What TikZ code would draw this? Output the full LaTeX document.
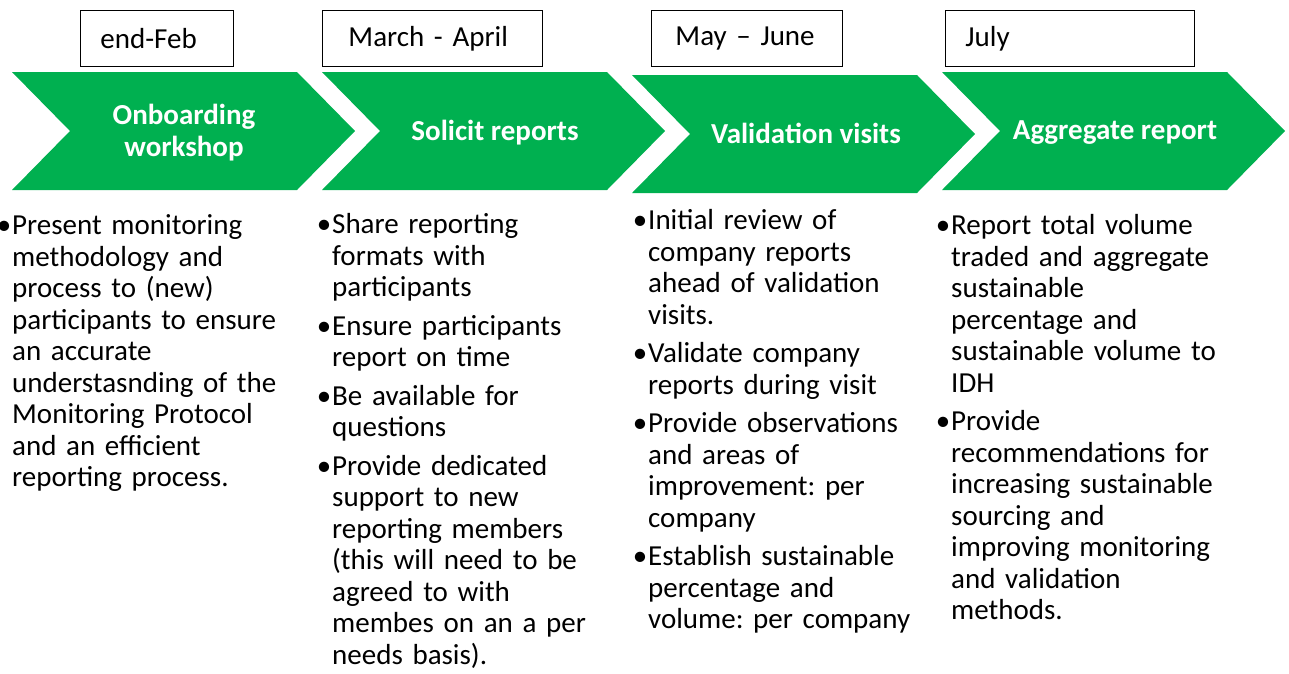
\documentclass[tikz,border=0pt]{standalone}
\usepackage{fontspec}
\setmainfont{Carlito}
\usepackage{tikz}
\usetikzlibrary{positioning}
\definecolor{stepgreen}{RGB}{0,176,80}
\frenchspacing
% one chevron: top left corner at (#1,#2)
\newcommand{\chevron}[2]{\fill[stepgreen] (#1,#2) -- ++(285,0) -- ++(58,59) -- ++(-58,59) -- ++(-285,0) -- ++(58,-59) -- cycle;}
\newcommand{\bul}{\par\noindent\llap{\textbullet\hskip1pt}}

\begin{document}
\begin{tikzpicture}[
  x=1pt, y=-1pt,
  datebox/.style={draw, line width=0.9pt, anchor=north west, minimum height=56pt, inner xsep=20pt, inner ysep=0pt, text width=#1, align=left, font=\fontsize{29}{32}\selectfont},
  phase/.style={text=white, align=center, font=\bfseries\fontsize{29}{32}\selectfont},
  notes/.style={anchor=north west, inner sep=0pt, text width=300pt, font=\fontsize{29}{31.5}\selectfont, execute at begin node={\setlength{\parskip}{7pt}}}
]
  \useasboundingbox (0,0) rectangle (1289,673);

  % Dates
  \node[datebox=113pt] (feb) at (80,10) {end-Feb};
  \node[datebox=180pt] (marapr) at (322,10) {\hspace{6pt}March - April};
  \node[datebox=151pt] (mayjun) at (651,10) {\hspace{4pt}May – June};
  \node[datebox=209pt] (jul) at (945,10) {July};

  % Chevrons
  \chevron{12}{72}
  \chevron{322}{72}
  \chevron{632}{75}
  \chevron{942}{72}
  \node[phase] (onb) at (184,133) {Onboarding\\workshop};
  \node[phase] (sol) at (495,133) {Solicit reports};
  \node[phase] (val) at (806,133) {Validation visits};
  \node[phase] (agg) at (1115,133) {Aggregate report};

  % Tasks
  \node[notes] (onbtasks) at (12,196) {\bul Present monitoring\newline methodology and\newline process to (new)\newline participants to ensure\newline an accurate\newline understasnding of the\newline Monitoring Protocol\newline and an efficient\newline reporting process.};
  \node[notes] (soltasks) at (332,195) {\bul Share reporting\newline formats with\newline participants
    \bul Ensure participants\newline report on time
    \bul Be available for\newline questions
    \bul Provide dedicated\newline support to new\newline reporting members\newline (this will need to be\newline agreed to with\newline membes on an a per\newline needs basis).};
  \node[notes] (valtasks) at (648,191) {\bul Initial review of\newline company reports\newline ahead of validation\newline visits.
    \bul Validate company\newline reports during visit
    \bul Provide observations\newline and areas of\newline improvement: per\newline company
    \bul Establish sustainable\newline percentage and\newline volume: per company};
  \node[notes] (aggtasks) at (951,196) {\bul Report total volume\newline traded and aggregate\newline sustainable\newline percentage and\newline sustainable volume to\newline IDH
    \bul Provide\newline recommendations for\newline increasing sustainable\newline sourcing and\newline improving monitoring\newline and validation\newline methods.};
\end{tikzpicture}
\end{document}
